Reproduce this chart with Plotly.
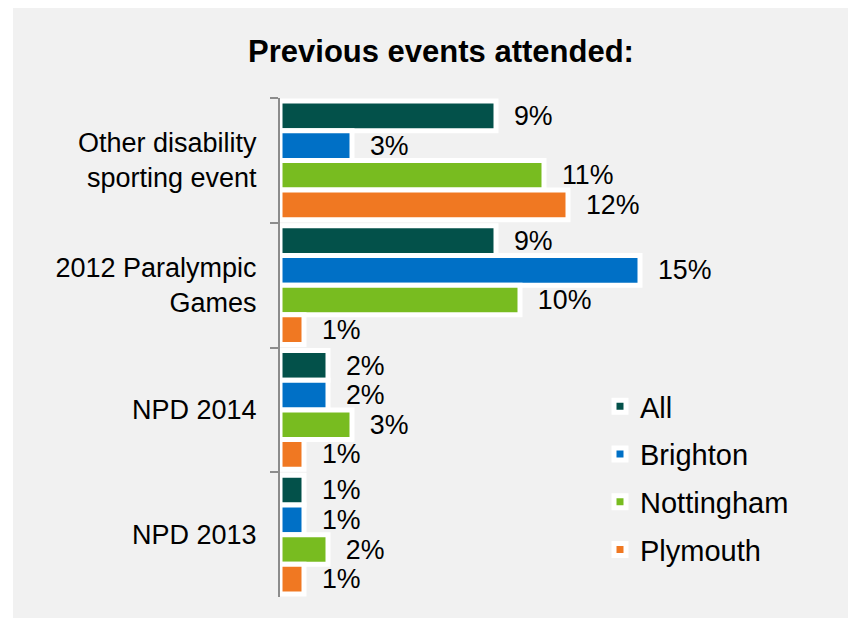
import plotly.graph_objects as go

categories = ["Other disability<br>sporting event", "2012 Paralympic<br>Games", "NPD 2014", "NPD 2013"]
series_names = ["All", "Brighton", "Nottingham", "Plymouth"]
all_vals = [9, 9, 2, 1]
brighton_vals = [3, 15, 2, 1]
nottingham_vals = [11, 10, 3, 2]
plymouth_vals = [12, 1, 1, 1]
colors = ["#03514A", "#0070C6", "#78BC20", "#F07822"]

series_values = [all_vals, brighton_vals, nottingham_vals, plymouth_vals]

FONT = "Arial, Liberation Sans, sans-serif"
NB = "\u00a0"

fig = go.Figure()
for name, vals, col in zip(series_names, series_values, colors):
    fig.add_trace(go.Bar(
        y=categories, x=vals, name=name, orientation="h",
        marker=dict(color=col, line=dict(color="white", width=5)),
        text=[f"{NB}{NB}{v}%" for v in vals],
        textposition="outside", cliponaxis=False,
        textfont=dict(family=FONT, size=28, color="black"),
        legendgroup=name,
    ))

L, R_MARGIN, T, B = 280, 88, 98, 21
PW = 848 - L - R_MARGIN
PH = 618 - T - B

fig.update_layout(
    width=848, height=618,
    margin=dict(l=L, r=R_MARGIN, t=T, b=B, pad=0),
    paper_bgcolor="#F1F1F1", plot_bgcolor="rgba(0,0,0,0)",
    barmode="group", bargap=0.05, bargroupgap=0,
    font=dict(family=FONT, color="black"),
    title=dict(text="<b>Previous events attended:</b>", x=(441 - L) / PW, xref="paper",
               xanchor="center", y=1 - 51 / 618, yref="container", yanchor="middle",
               font=dict(family=FONT, size=31, color="black")),
    xaxis=dict(range=[0, 20], visible=False, showgrid=False, zeroline=False),
    yaxis=dict(categoryorder="array", categoryarray=categories, autorange="reversed",
               showline=True, linecolor="#8C8C8C", linewidth=2,
               ticks="outside", tickson="boundaries", ticklen=8, tickcolor="#8C8C8C", tickwidth=2,
               ticklabelstandoff=16,
               tickfont=dict(family=FONT, size=27, color="black"), showgrid=False),
    legend=dict(x=(600 - L) / PW, y=(597 - 381) / PH, xanchor="left", yanchor="top",
                font=dict(family=FONT, size=29, color="black"),
                bgcolor="rgba(0,0,0,0)", tracegroupgap=7, traceorder="grouped"),
    shapes=[
        dict(type="rect", xref="paper", yref="paper",
             x0=-1.0, x1=(13 - L) / PW, y0=-0.2, y1=1.4,
             fillcolor="white", line=dict(width=0), layer="below"),
        dict(type="rect", xref="paper", yref="paper",
             x0=-1.0, x1=1.5, y0=(597 - 8) / PH, y1=1.4,
             fillcolor="white", line=dict(width=0), layer="below"),
    ],
)

fig.write_html("out.html", config={"displayModeBar": False},
               post_script="document.body.style.margin='0';document.body.style.overflow='hidden';")
